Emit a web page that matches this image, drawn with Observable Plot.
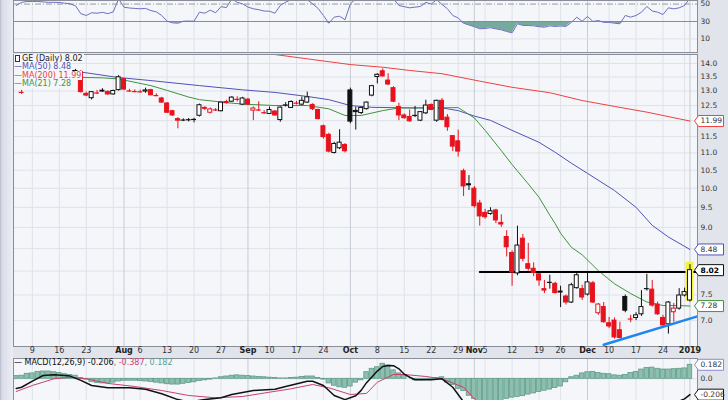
<!DOCTYPE html>
<html><head><meta charset="utf-8">
<script src="https://cdn.jsdelivr.net/npm/d3@7"></script>
<script src="https://cdn.jsdelivr.net/npm/@observablehq/plot@0.6"></script>
<style>
body{margin:0;background:#e1e4eb;}
#wrap{position:relative;width:728px;height:400px;overflow:hidden;background:#e1e4eb;font-family:"DejaVu Sans",sans-serif;}
.abs{position:absolute;left:0;}
#lstrip{position:absolute;left:0;top:0;width:13px;height:400px;background:linear-gradient(to right,#b4b9c6 0px,#d9dde7 2px,#e9ecf4 12px);}
#legend{position:absolute;left:14px;top:55px;font-size:8px;line-height:8.4px;white-space:nowrap;}
#legend span.row{background:#f4f6fa;padding-right:1px;}
#macdLegend{position:absolute;left:14px;top:358px;font-size:8px;line-height:9px;white-space:nowrap;}
.ico{display:inline-block;width:3px;height:5px;border:1px solid #333;margin:0 2px 0 1px;vertical-align:-1px;background:#fff;}
</style></head><body>
<div id="wrap">
  <div id="lstrip"></div>
  <div id="rsi" class="abs" style="top:0"></div>
  <div id="main" class="abs" style="top:53px"></div>
  <div id="macd" class="abs" style="top:357px"></div>
  <div id="legend"></div>
  <div id="macdLegend"></div>
</div>
<script>
// ---------- DATA ----------
const dates = [
"2018-07-03","2018-07-05","2018-07-06","2018-07-09","2018-07-10","2018-07-11","2018-07-12","2018-07-13","2018-07-16","2018-07-17","2018-07-18","2018-07-19","2018-07-20","2018-07-23","2018-07-24","2018-07-25","2018-07-26","2018-07-27","2018-07-30","2018-07-31",
"2018-08-01","2018-08-02","2018-08-03","2018-08-06","2018-08-07","2018-08-08","2018-08-09","2018-08-10","2018-08-13","2018-08-14","2018-08-15","2018-08-16","2018-08-17","2018-08-20","2018-08-21","2018-08-22","2018-08-23","2018-08-24","2018-08-27","2018-08-28",
"2018-08-29","2018-08-30","2018-08-31","2018-09-04","2018-09-05","2018-09-06","2018-09-07","2018-09-10","2018-09-11","2018-09-12","2018-09-13","2018-09-14","2018-09-17","2018-09-18","2018-09-19","2018-09-20","2018-09-21","2018-09-24","2018-09-25","2018-09-26",
"2018-09-27","2018-09-28","2018-10-01","2018-10-02","2018-10-03","2018-10-04","2018-10-05","2018-10-08","2018-10-09","2018-10-10","2018-10-11","2018-10-12","2018-10-15","2018-10-16","2018-10-17","2018-10-18","2018-10-19","2018-10-22","2018-10-23","2018-10-24",
"2018-10-25","2018-10-26","2018-10-29","2018-10-30","2018-10-31","2018-11-01","2018-11-02","2018-11-05","2018-11-06","2018-11-07","2018-11-08","2018-11-09","2018-11-12","2018-11-13","2018-11-14","2018-11-15","2018-11-16","2018-11-19","2018-11-20","2018-11-21",
"2018-11-23","2018-11-26","2018-11-27","2018-11-28","2018-11-29","2018-11-30","2018-12-03","2018-12-04","2018-12-06","2018-12-07","2018-12-10","2018-12-11","2018-12-12","2018-12-13","2018-12-14","2018-12-17","2018-12-18","2018-12-19","2018-12-20","2018-12-21",
"2018-12-24","2018-12-26","2018-12-27","2018-12-28","2018-12-31","2019-01-02"];
const N = null;
const open = [
N,12.96,N,N,N,N,N,N,N,N,N,13.72,13.68,12.90,12.75,12.95,12.98,12.97,12.88,13.03,
13.42,13.02,13.00,12.99,12.98,13.03,12.86,12.74,12.57,12.31,12.05,12.00,12.01,12.02,12.16,12.42,12.26,12.37,12.31,12.62,
12.63,12.73,12.53,12.70,12.33,12.37,12.27,12.22,12.30,12.02,12.50,12.42,12.60,12.53,12.60,12.52,12.35,11.82,11.55,11.00,
11.14,11.24,13.02,12.32,12.25,12.38,12.84,13.50,13.71,13.37,13.10,12.45,12.17,12.12,12.15,12.00,12.24,12.52,12.00,12.66,
12.10,11.51,11.35,10.47,10.11,9.99,9.60,9.36,9.33,9.42,9.11,8.77,8.40,7.95,8.73,8.15,8.05,7.93,7.62,7.74,
7.73,7.55,7.47,7.35,7.64,7.62,7.51,7.74,7.14,7.26,6.95,7.00,6.82,7.46,7.05,7.05,7.12,7.61,7.61,7.31,
7.05,6.93,7.16,7.23,7.49,7.39];
const high = [
N,13.02,N,N,N,N,N,N,N,N,N,13.78,13.74,12.96,12.98,13.02,13.08,13.00,13.03,13.55,
13.45,13.06,13.04,13.03,13.10,13.06,12.90,12.78,12.60,12.34,12.10,12.06,12.07,12.08,12.55,12.46,12.42,12.40,12.62,12.68,
12.80,12.80,12.78,12.74,12.45,12.63,12.33,12.45,12.33,12.46,12.60,12.66,12.64,12.79,12.96,12.56,12.38,11.86,11.60,11.32,
11.71,11.28,13.10,12.45,12.45,12.62,13.20,13.62,13.80,13.62,13.15,12.58,12.22,12.35,12.47,12.30,12.68,12.55,12.68,12.74,
12.20,11.53,11.70,10.53,10.35,10.05,9.68,9.45,9.49,9.45,9.31,8.92,8.45,9.03,8.83,8.62,8.18,7.94,7.80,7.91,
7.76,7.68,7.50,7.74,7.96,7.70,7.95,7.78,7.33,7.35,7.06,7.05,6.97,7.50,7.10,7.15,7.59,7.93,7.80,7.36,
7.10,7.37,7.33,7.63,7.64,8.14];
const low = [
N,12.88,N,N,N,N,N,N,N,N,N,13.58,12.93,12.80,12.69,12.88,12.95,12.85,12.86,13.00,
13.02,12.95,12.94,12.93,12.92,12.83,12.80,12.58,12.24,12.14,11.74,11.97,11.96,11.93,12.12,12.33,12.22,12.30,12.29,12.55,
12.60,12.62,12.50,12.50,12.00,12.30,12.20,12.20,12.15,11.95,12.45,12.40,12.52,12.50,12.57,12.33,12.03,11.42,11.00,10.97,
11.10,11.00,11.90,11.70,12.20,12.35,12.80,13.25,13.50,13.19,12.60,12.00,12.05,11.95,12.10,11.97,12.20,12.33,11.95,12.00,
11.66,11.04,10.88,9.78,9.94,9.48,9.03,9.20,9.30,9.09,9.00,8.31,7.68,7.90,8.20,8.00,7.88,7.68,7.53,7.62,
7.52,7.25,7.30,7.33,7.62,7.39,7.48,7.33,7.10,6.95,6.85,6.66,6.66,7.15,6.96,7.00,7.08,7.58,7.26,7.10,
6.88,6.75,6.97,7.20,7.46,7.36];
const close = [
N,12.95,N,N,N,N,N,N,N,N,N,13.65,12.96,12.84,12.96,12.93,13.01,12.88,13.00,13.49,
13.05,13.00,12.98,12.97,13.02,12.85,12.84,12.60,12.26,12.17,12.00,12.02,12.03,12.04,12.51,12.39,12.37,12.35,12.60,12.58,
12.77,12.71,12.74,12.53,12.40,12.35,12.26,12.35,12.17,12.43,12.52,12.62,12.58,12.66,12.78,12.38,12.05,11.48,11.04,11.27,
11.31,11.05,11.97,12.28,12.42,12.60,13.17,13.58,13.52,13.23,12.63,12.17,12.08,11.98,12.17,12.28,12.50,12.35,12.66,12.02,
11.79,11.19,11.04,10.05,10.08,9.53,9.27,9.25,9.40,9.17,9.07,8.53,7.97,8.57,8.27,8.05,7.96,7.80,7.59,7.76,
7.54,7.57,7.35,7.70,7.91,7.45,7.76,7.35,7.31,6.97,6.89,6.69,6.68,7.19,7.03,7.10,7.26,7.63,7.29,7.12,
6.91,7.35,7.23,7.49,7.56,8.02];

// moving averages (trading-day index, value)
const ma50Day = [10,19,25,34,42,48,54,58,62,66,73,79,82,85,88,92,97,100,103,106,111,115,118,121,125];
const ma50Val = [13.74,13.48,13.37,13.19,13.04,12.95,12.81,12.70,12.50,12.44,12.42,12.42,12.33,12.15,12.01,11.69,11.32,11.02,10.70,10.41,9.94,9.50,9.05,8.77,8.48];
const ma200Day = [38,47,62,68,73,79,86,92,99,105,111,117,123,125];
const ma200Val = [14.6,14.37,13.96,13.86,13.74,13.62,13.35,13.13,12.94,12.67,12.47,12.28,12.06,11.99];
const ma21Day = [10,16,19,25,28,32,34,40,43,48,54,58,61,64,68,71,76,82,85,87,90,92,95,97,99,100,101,103,105,108,111,114,117,120,123,125];
const ma21Val = [13.49,13.47,13.43,13.19,13.02,12.79,12.70,12.58,12.54,12.50,12.50,12.39,12.17,12.17,12.33,12.42,12.42,12.43,12.09,11.69,11.07,10.66,10.12,9.76,9.30,9.09,8.86,8.53,8.36,8.01,7.73,7.53,7.36,7.29,7.29,7.28];

// drawn trend lines (day index, price)
const resistDay = [86,126.4], resistVal = [7.98,7.98];
const supportDay = [109,126.4], supportVal = [6.56,7.08];

// RSI(14) per day
const rsi = [
48.4,52,53,53,53,52.5,52,52,51.8,51,50.3,48,38.9,36.9,40,39.5,40.5,39,41,56,
46.4,45.5,45,44.6,45,42.6,41,36.9,30.3,28.5,28,30.3,30.5,30.3,40.7,39.5,43,40,47,46,
56,52,50.3,46.5,44.6,43.5,42,41.8,39.5,48.4,52.2,55,55,56,55,50.3,45,36.9,28,35,
36,32,50.3,56,57,58,62,65,64,60,56,48.4,47,45.7,46.5,47.2,52,50,55,49.5,
44.6,36.9,34,28,26,24,21.6,22,22.8,21.5,20.5,18.5,17,27.4,25.5,25.4,25,24,23.4,25,
24.3,24.8,24.3,29,34.9,30.3,35.7,30,31.1,29,29,28,27.4,36.9,35,36.9,40.7,47.2,42,40.7,
38,45.7,44.5,45.7,48.4,57];

// MACD(12,26,9) histogram per day
const hist = [
0.035,0.04,0.065,0.07,0.09,0.095,0.095,0.085,0.075,0.06,0.05,0.04,0.01,-0.01,-0.04,-0.055,-0.06,-0.06,-0.05,-0.035,
-0.025,-0.025,-0.025,-0.03,-0.035,-0.04,-0.05,-0.06,-0.07,-0.075,-0.075,-0.065,-0.055,-0.045,-0.03,-0.02,-0.01,0.005,0.02,0.03,
0.04,0.045,0.04,0.035,0.03,0.025,0.02,0.015,0.01,0.005,0.005,0.01,0.015,0.025,0.03,0.03,0.01,-0.01,-0.06,-0.09,
-0.11,-0.117,-0.1,-0.05,-0.02,0.086,0.13,0.15,0.195,0.173,0.11,0.07,0.043,0.0,-0.02,-0.02,-0.015,-0.01,0.01,0.02,
-0.05,-0.08,-0.13,-0.16,-0.22,-0.26,-0.3,-0.32,-0.33,-0.31,-0.29,-0.26,-0.245,-0.235,-0.225,-0.205,-0.19,-0.17,-0.155,-0.14,
-0.12,-0.1,-0.045,0.02,0.04,0.07,0.085,0.09,0.075,0.065,0.06,0.045,0.04,0.05,0.075,0.09,0.12,0.14,0.145,0.13,
0.12,0.12,0.125,0.13,0.135,0.182];
const macdDay = [0,1,3,5,7,9,10,12,14,17,21,24,27,30,32,35,38,40,44,48,50,54,55,57,59,61,63,64,65,67,68,69,70,71,72,73,74,77,79,81,83,86,92,100,110,118,123,124,125];
const macdVal = [-0.125,-0.11,-0.03,0.043,0.052,0.043,0.035,-0.02,-0.087,-0.117,-0.117,-0.135,-0.195,-0.27,-0.3,-0.27,-0.247,-0.204,-0.152,-0.135,-0.1,-0.031,-0.031,-0.087,-0.217,-0.27,-0.22,-0.15,-0.05,0.1,0.16,0.173,0.17,0.13,0.06,0.02,-0.013,-0.013,0,-0.11,-0.3,-0.5,-0.63,-0.6,-0.45,-0.34,-0.29,-0.26,-0.206];
const sigDay = [0,3,7,10,13,17,22,27,32,37,42,47,51,55,58,62,65,67,70,72,76,79,83,85,88,95,105,115,125];
const sigVal = [-0.165,-0.087,0,0.02,0,-0.06,-0.1,-0.152,-0.217,-0.247,-0.23,-0.174,-0.13,-0.074,-0.117,-0.204,-0.19,-0.044,0.056,0.056,0.03,0,-0.11,-0.26,-0.4,-0.55,-0.55,-0.5,-0.387];

// axis ticks
const tickDates = ["2018-07-09","2018-07-16","2018-07-23","2018-08-01","2018-08-06","2018-08-13","2018-08-20","2018-08-27","2018-09-04","2018-09-10","2018-09-17","2018-09-24","2018-10-01","2018-10-08","2018-10-15","2018-10-22","2018-10-29","2018-11-01","2018-11-05","2018-11-12","2018-11-19","2018-11-26","2018-12-03","2018-12-10","2018-12-17","2018-12-24","2019-01-02"];
const tickLabels = ["9","16","23","Aug","6","13","20","27","Sep","10","17","24","Oct","8","15","22","29","Nov","5","12","19","26","Dec","10","17","24","2019"];
const weekDates = ["2018-07-09","2018-07-16","2018-07-23","2018-07-30","2018-08-06","2018-08-13","2018-08-20","2018-08-27","2018-09-10","2018-09-17","2018-09-24","2018-10-08","2018-10-15","2018-10-22","2018-10-29","2018-11-05","2018-11-12","2018-11-19","2018-11-26","2018-12-10","2018-12-17","2018-12-24","2018-12-31"];
const monthDates = ["2018-08-01","2018-09-04","2018-10-01","2018-11-01","2018-12-03","2019-01-02"];
const priceGrid = [7,7.5,8,8.5,9,9.5,10,10.5,11,11.5,12,12.5,13,13.5,14];
const priceTicks = [7,7.5,9,9.5,10,10.5,11,11.5,12.5,13,13.5,14];
const rsiTicks = [50,30,10];

// ---------- STYLE ----------
const RED = "#e8121c", BLACK = "#111111";
const PANEL = "#f4f6fa", GRID = "#dfe2e8", MGRID = "#c7cbd4", FRAME = "#8a8e99";
const C50 = "#5252b8", C200 = "#ee4242", C21 = "#3f943f", CSIG = "#c8426c", CHIST = "#8cbfae", CHISTS = "#5f9a88";
const XD = [-0.5, 126.4];
const idx = d => dates.indexOf(d);
const weekPos = weekDates.map(idx), monthPos = monthDates.map(idx);
const ticks = tickDates.map((d, i) => ({pos: idx(d), label: tickLabels[i], bold: isNaN(+tickLabels[i]) || tickLabels[i].length === 4}));
const pairs = (ds, vs) => ds.map((d, i) => ({d, v: vs[i]}));

const candles = [];
dates.forEach((d, i) => { if (open[i] != null) candles.push({pos: i, o: open[i], h: high[i], l: low[i], c: close[i]}); });
candles.forEach((d, k) => {
  const prev = k > 0 ? candles[k - 1].c : d.o;
  d.col = d.c < prev ? RED : BLACK;
  d.hollow = d.c > d.o;
});
const last = candles[candles.length - 1];

const arrowBox = {draw(ctx) { ctx.moveTo(-3, 0); ctx.lineTo(1, -5.5); ctx.lineTo(26, -5.5); ctx.lineTo(26, 5.5); ctx.lineTo(1, 5.5); ctx.closePath(); }};
const base = (h, mt, mb) => ({width: 728, height: h, marginLeft: 13, marginRight: 31, marginTop: mt, marginBottom: mb,
  x: {domain: XD, axis: null}, color: {type: "identity"},
  style: {background: "transparent", fontFamily: "DejaVu Sans, sans-serif", fontSize: "8px", overflow: "visible", color: "#222"}});
const vgrid = () => [Plot.ruleX(weekPos, {stroke: GRID}), Plot.ruleX(monthPos, {stroke: MGRID})];

// ---------- RSI ----------
const rsiData = rsi.map((v, i) => ({d: i, v}));
const rsiPlot = Plot.plot({...base(53, 0, 1), y: {domain: [-5.6, 54.1], axis: null}, marks: [
  Plot.frame({fill: PANEL, stroke: "none"}),
  ...vgrid(),
  Plot.ruleY([10], {stroke: GRID}),
  Plot.ruleY([30], {stroke: "#8c8c8c"}),
  Plot.ruleY([50], {stroke: "#9a9a9a", strokeDasharray: "6,2,1,2"}),
  Plot.areaY(rsiData, {x: "d", y1: 30, y2: d => Math.min(d.v, 30), fill: "#5e9c8c", fillOpacity: 0.85, clip: true}),
  Plot.line(rsiData, {x: "d", y: "v", stroke: "#6e6ec2", strokeWidth: 1, clip: true}),
  Plot.frame({stroke: FRAME}),
  Plot.text(rsiTicks, {y: d => d, text: d => String(d), frameAnchor: "right", dx: 3, textAnchor: "start", fontSize: 7.5, fill: "#333"})
]});
document.getElementById("rsi").append(rsiPlot);

// ---------- MAIN ----------
const bodies = candles.filter(d => Math.abs(d.o - d.c) >= 0.02);
const dojis = candles.filter(d => Math.abs(d.o - d.c) < 0.02);
const boxes = [
  {v: ma200Val[ma200Val.length - 1], c: C200, w: "normal"},
  {v: ma50Val[ma50Val.length - 1], c: C50, w: "normal"},
  {v: last.c, c: "#111", w: "bold"},
  {v: ma21Val[ma21Val.length - 1], c: C21, w: "normal"}
];
const mainPlot = Plot.plot({...base(305, 1, 12), y: {type: "log", domain: [6.528, 14.344], axis: null}, marks: [
  Plot.frame({fill: PANEL, stroke: "none"}),
  Plot.ruleY(priceGrid, {stroke: GRID}),
  ...vgrid(),
  Plot.line(pairs(ma200Day, ma200Val), {x: "d", y: "v", stroke: C200, strokeWidth: 1, clip: true}),
  Plot.line(pairs(ma50Day, ma50Val), {x: "d", y: "v", stroke: C50, strokeWidth: 1, clip: true}),
  Plot.line(pairs(ma21Day, ma21Val), {x: "d", y: "v", stroke: C21, strokeWidth: 1, clip: true}),
  Plot.line(pairs(resistDay, resistVal), {x: "d", y: "v", stroke: "#000", strokeWidth: 1.8, clip: true}),
  Plot.rect([last], {x1: d => d.pos - 0.75, x2: d => d.pos + 0.75, y1: d => d.o * 0.998, y2: d => d.h * 1.006, fill: "#f6f33a"}),
  Plot.ruleX(candles, {x: "pos", y1: "l", y2: "h", stroke: "col", strokeWidth: 1}),
  Plot.rect(bodies, {x1: d => d.pos - 0.37, x2: d => d.pos + 0.37, y1: "o", y2: "c", fill: d => d.hollow ? "#ffffff" : d.col, stroke: "col", strokeWidth: 1}),
  Plot.ruleY(dojis, {y: "c", x1: d => d.pos - 0.45, x2: d => d.pos + 0.45, stroke: "col", strokeWidth: 1.2}),
  Plot.line(pairs(supportDay, supportVal), {x: "d", y: "v", stroke: "#1f86f0", strokeWidth: 2.5, clip: true}),
  Plot.frame({stroke: FRAME}),
  Plot.text(priceTicks, {y: d => d, text: d => d.toFixed(1), frameAnchor: "right", dx: 3, textAnchor: "start", fontSize: 7.5, fill: "#333"}),
  Plot.dot(boxes, {y: "v", frameAnchor: "right", symbol: arrowBox, r: 5, fill: "#ffffff", stroke: "c", strokeWidth: 1}),
  Plot.text(boxes.filter(b => b.w === "normal"), {y: "v", text: d => d.v.toFixed(2), frameAnchor: "right", dx: 3, textAnchor: "start", fontSize: 7.5, fill: "#333"}),
  Plot.text(boxes.filter(b => b.w === "bold"), {y: "v", text: d => d.v.toFixed(2), frameAnchor: "right", dx: 3, textAnchor: "start", fontSize: 7.5, fill: "#000", fontWeight: "bold"}),
  Plot.text(ticks.filter(t => !t.bold), {x: "pos", text: "label", frameAnchor: "bottom", dy: 6, fontSize: 8, fill: "#333"}),
  Plot.text(ticks.filter(t => t.bold), {x: "pos", text: "label", frameAnchor: "bottom", dy: 6, fontSize: 8, fill: "#222", fontWeight: "bold"})
]});
document.getElementById("main").append(mainPlot);

// ---------- MACD ----------
const histData = hist.map((v, i) => ({d: i, v}));
const macdLast = macdVal[macdVal.length - 1], sigLast = sigVal[sigVal.length - 1], histLast = hist[hist.length - 1];
const mboxes = [{v: histLast, c: "#8a8ad0"}, {v: macdLast, c: "#111"}];
const macdPlot = Plot.plot({...base(43, 1, 0), y: {domain: [-0.2818, 0.2636], axis: null}, marks: [
  Plot.frame({fill: PANEL, stroke: "none"}),
  ...vgrid(),
  Plot.ruleY([0], {stroke: GRID}),
  Plot.rect(histData, {x1: d => d.d - 0.42, x2: d => d.d + 0.42, y1: 0, y2: "v", fill: CHIST, stroke: CHISTS, strokeWidth: 0.8, clip: true}),
  Plot.line(pairs(sigDay, sigVal), {x: "d", y: "v", stroke: CSIG, strokeWidth: 1, clip: true}),
  Plot.line(pairs(macdDay, macdVal), {x: "d", y: "v", stroke: "#111", strokeWidth: 1.5, clip: true}),
  Plot.frame({stroke: FRAME}),
  Plot.text([0], {y: d => d, text: d => d.toFixed(1), frameAnchor: "right", dx: 3, textAnchor: "start", fontSize: 7.5, fill: "#333"}),
  Plot.dot(mboxes, {y: "v", frameAnchor: "right", symbol: arrowBox, r: 5, fill: "#ffffff", stroke: "c", strokeWidth: 1}),
  Plot.text(mboxes, {y: "v", text: d => d.v.toFixed(3), frameAnchor: "right", dx: 3, textAnchor: "start", fontSize: 7.5, fill: "#333"})
]});
document.getElementById("macd").append(macdPlot);

// ---------- LEGENDS ----------
const lg = document.getElementById("legend");
const rows = [
  {html: `<span class="ico"></span>GE (Daily) ${last.c.toFixed(2)}`, color: "#222"},
  {html: `<span style="color:${C50}">&#8212;</span>MA(50) ${ma50Val[ma50Val.length - 1].toFixed(2)}`, color: C50},
  {html: `<span style="color:${C200}">&#8212;</span>MA(200) ${ma200Val[ma200Val.length - 1].toFixed(2)}`, color: C200},
  {html: `<span style="color:${C21}">&#8212;</span>MA(21) ${ma21Val[ma21Val.length - 1].toFixed(2)}`, color: C21}
];
rows.forEach(r => { const div = document.createElement("div"); div.innerHTML = `<span class="row" style="color:${r.color}">${r.html}</span>`; lg.append(div); });
document.getElementById("macdLegend").innerHTML =
  `<span style="color:#111">&#8212; MACD(12,26,9) ${macdLast.toFixed(3)}</span><span style="color:${CSIG}">, ${sigLast.toFixed(3)}</span><span style="color:#5a9e8c">, ${histLast.toFixed(3)}</span>`;
</script>
</body></html>
